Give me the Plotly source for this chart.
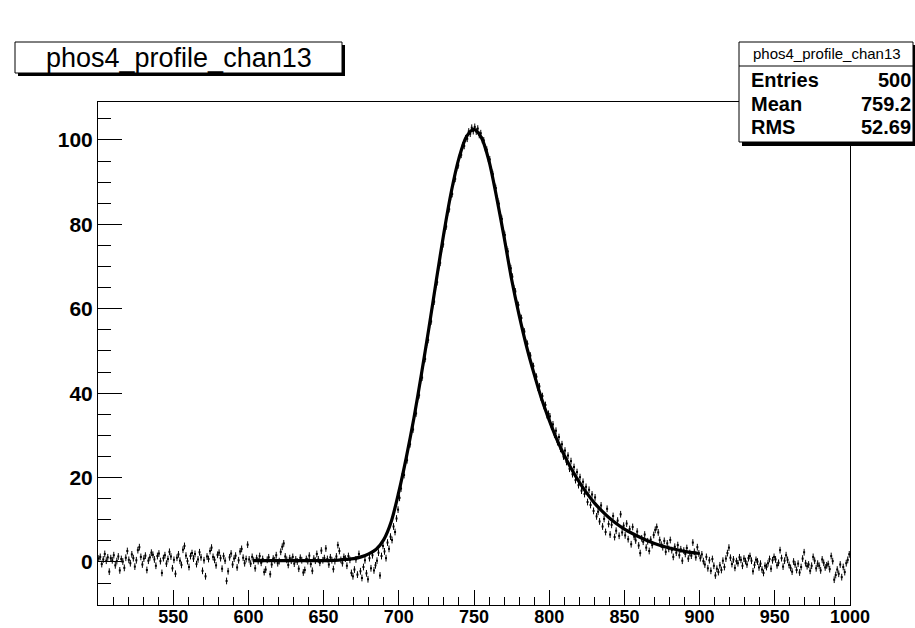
import plotly.graph_objects as go

# ---------------- data ----------------
hist_name = "phos4_profile_chan13"
x_low, x_high = 500, 1000
y_low, y_high = -10.2, 109.0

stat_labels = ["Entries", "Mean", "RMS"]
stat_values = ["500", "759.2", "52.69"]

x_tick_vals = [550, 600, 650, 700, 750, 800, 850, 900, 950, 1000]
y_tick_vals = [0, 20, 40, 60, 80, 100]

# profile contents, one per bin (bin width 1, bins 500..1000)
row00 = [0.8, 1.2, -0.5, 0.6, 1.9, 0.3, 1.1, -2.3, 0.9, 0.4, 1.6, -0.8, 0.2, 1.3, -2.0, 0.7, 0.1, -1.4, 1.0, 2.6, 0.5, -0.3, 1.8, 0.9, -1.1]
row01 = [0.4, 2.8, 3.5, 1.2, -0.6, 0.8, 1.5, -1.9, 0.3, 1.1, 2.2, 1.7, 0.6, -0.9, 1.4, 2.0, 0.2, -2.6, 0.9, 1.6, -0.4, 0.7, 2.4, 1.3, -1.5]
row02 = [0.5, -2.8, 1.0, 1.8, 0.3, -0.7, 2.9, 3.8, 1.5, 0.2, -1.2, 1.4, 2.1, 0.8, 1.9, -0.5, 0.6, 2.3, 1.1, -2.1, 0.4, -3.4, 1.3, 0.7, 2.6]
row03 = [3.4, 1.2, 0.5, -0.8, 1.7, 2.2, 0.9, -1.6, 1.4, 0.3, -4.5, -2.2, 1.1, 2.0, -0.6, 0.8, 1.5, -1.3, 0.4, 2.5, 3.1, 1.0, -0.3, 0.7, 4.1]
row04 = [0.6, -0.4, 1.2, 0.3, -1.5, 0.9, 0.2, 1.4, -0.2, 0.7, -2.4, -1.8, 0.5, 1.1, -2.9, -0.6, 0.8, 0.4, 1.6, -0.3, 0.2, 2.4, 3.6, 4.4, 1.3]
row05 = [0.5, -0.7, 0.9, 0.3, 1.2, -0.4, 0.6, 0.1, -1.6, 1.0, 0.4, -2.5, -1.9, 0.7, 0.2, 1.5, -0.5, -2.1, 0.8, 0.3, 1.9, 0.6, -0.2, 2.7, 0.4]
row06 = [0.9, 3.2, 0.7, -0.6, 1.1, 0.4, -1.7, 0.2, 1.3, 4.0, 2.6, 0.5, -0.3, 1.2, 0.8, -0.9, 1.4, 0.5, -2.6, -3.4, -1.8, 0.6, -3.0, 1.9, -2.2]
row07 = [-3.8, -1.2, 0.4, -2.7, -4.1, 0.9, -1.5, 1.6, -2.0, -0.8, 0.3, 2.2, -3.2, 1.4, 3.8, 2.5, 0.9, 4.6, 3.1, 6.0, 5.2, 8.4, 7.1, 10.3, 12.4]
row08 = [15.2, 17.4, 20.8, 20.6, 23.9, 24.1, 27.5, 27.9, 31.0, 31.4, 34.9, 35.2, 38.6, 39.5, 43.0, 43.7, 47.3, 48.1, 51.5, 52.6, 56.2, 57.0, 60.8, 61.7, 65.2]
row09 = [66.3, 69.8, 70.9, 74.2, 75.3, 78.6, 79.5, 82.8, 83.6, 86.5, 87.2, 90.1, 90.8, 93.4, 94.0, 96.3, 96.5, 98.7, 98.6, 100.4, 100.3, 102.0, 101.5, 102.9, 102.1]
row10 = [103.1, 102.0, 102.7, 101.2, 101.6, 100.0, 99.9, 98.1, 97.7, 95.6, 95.4, 92.9, 91.9, 89.5, 88.6, 86.0, 84.9, 82.2, 81.3, 78.4, 77.5, 74.6, 73.6, 70.5, 69.6]
row11 = [67.6, 64.8, 64.1, 61.2, 60.9, 58.0, 57.8, 54.9, 54.6, 52.0, 51.7, 49.0, 48.9, 46.5, 46.4, 44.0, 43.9, 41.3, 41.6, 39.0, 39.3, 37.0, 37.2, 34.8, 35.1]
row12 = [34.5, 32.1, 32.6, 30.2, 31.1, 28.4, 29.6, 26.8, 27.9, 25.0, 26.4, 23.7, 25.2, 22.1, 23.9, 20.8, 22.5, 19.4, 21.3, 18.2, 20.1, 16.9, 19.0, 16.1, 17.8]
row13 = [14.2, 17.1, 13.5, 16.0, 12.1, 15.3, 10.8, 11.9, 9.6, 13.4, 8.4, 10.2, 7.1, 12.6, 9.0, 6.5, 8.8, 10.9, 5.9, 7.4, 9.8, 6.2, 11.3, 7.0, 8.6]
row14 = [6.3, 9.1, 5.4, 7.8, 4.2, 8.3, 6.0, 5.1, 7.2, 3.9, 2.1, 5.6, 4.8, 6.5, 3.4, 4.9, 2.6, 5.3, 4.0, 6.4, 7.6, 8.3, 7.0, 5.2, 4.1]
row15 = [3.5, 5.0, 2.4, 4.4, 3.1, 5.2, 2.8, 1.2, 3.6, 2.2, 4.0, 1.6, 3.0, 0.3, 2.7, 1.9, 3.3, 0.8, 2.1, 1.5, 4.6, 2.4, 1.1, 3.5, 2.0]
row16 = [0.9, 1.8, 0.2, -0.6, 1.2, -1.5, 0.4, -2.1, 0.7, -0.9, -3.2, -1.6, -2.4, -0.8, -1.9, 0.3, -1.2, 0.8, 2.1, 3.4, 1.0, -0.5, 0.6, -1.4, 0.2]
row17 = [-0.3, 1.1, 0.5, -0.9, 0.8, 0.2, -0.6, 0.9, 1.4, 0.3, -2.2, -0.7, 0.5, 0.1, -1.3, -0.4, -1.8, -2.6, -0.9, -1.2, -0.3, 0.7, -1.6, 0.4, 1.2]
row18 = [0.6, -0.8, -0.2, 2.8, 0.9, -1.1, 0.3, 1.6, 0.5, -0.7, -1.4, -2.3, 0.1, -0.6, -1.9, -0.4, -2.5, -1.2, 0.8, 2.3, -0.3, -1.0, -0.6, -2.1, -0.9]
row19 = [1.2, 0.3, -1.5, -0.4, -0.9, -2.0, 0.6, -0.2, -1.3, -0.8, -0.5, -1.7, 1.4, 0.2, -4.2, -3.1, -1.8, -2.8, -0.6, -3.6, -1.2, -2.4, -0.3, 0.5, 1.8]

profile_values = (row00 + row01 + row02 + row03 + row04 + row05 + row06 + row07 + row08 + row09
                  + row10 + row11 + row12 + row13 + row14 + row15 + row16 + row17 + row18 + row19)
bin_centers = [x_low + 0.5 + i for i in range(len(profile_values))]
point_error = 0.8

# fitted curve
fit_x = [603, 610, 620, 630, 640, 650, 655, 660, 665, 670, 675, 680, 685, 690, 695, 700, 705, 710, 715, 720,
         725, 730, 735, 740, 745, 750, 755, 760, 765, 770, 775, 780, 785, 790, 795, 800, 805, 810, 815, 820,
         825, 830, 835, 840, 845, 850, 855, 860, 865, 870, 875, 880, 885, 890, 895, 900]
fit_y = [0.3, 0.3, 0.3, 0.3, 0.3, 0.3, 0.35, 0.45, 0.6, 0.8, 1.2, 1.9, 3.0, 5.3, 9.6, 16.6, 24.8, 34.0, 44.4, 55.4,
         66.9, 78.0, 87.9, 95.7, 100.8, 102.5, 100.5, 95.0, 86.5, 77.0, 67.0, 58.5, 51.0, 44.5, 38.6, 33.6, 29.1, 25.3, 21.9, 18.9,
         16.3, 14.0, 12.1, 10.4, 9.0, 7.8, 6.8, 5.9, 5.1, 4.4, 3.8, 3.3, 2.9, 2.5, 2.2, 2.0]

# ---------------- figure ----------------
W, H = 915, 628
L, T = 98, 102
PW, PH = 752, 503
B = H - T - PH
R = W - L - PW

def px(xp):
    return (xp - L) / PW

def py(yp):
    return (T + PH - yp) / PH

FONT = "Liberation Sans, Arial, Helvetica, sans-serif"

fig = go.Figure()
fig.add_trace(go.Scatter(
    x=bin_centers, y=profile_values, mode="markers",
    marker=dict(symbol="square", size=2, color="black", line=dict(width=0)),
    error_y=dict(type="constant", value=point_error, color="black", thickness=1, width=0),
    showlegend=False, hoverinfo="x+y",
))
fig.add_trace(go.Scatter(
    x=fit_x, y=fit_y, mode="lines",
    line=dict(color="black", width=3.2, shape="spline", smoothing=0.8),
    showlegend=False,
))

fig.update_layout(
    width=W, height=H,
    margin=dict(l=L, r=R, t=T, b=B, pad=0),
    paper_bgcolor="white", plot_bgcolor="white",
    font=dict(family=FONT, color="black"),
)
fig.update_xaxes(
    range=[x_low, x_high], automargin=False,
    showgrid=False, zeroline=False,
    showline=True, linecolor="black", linewidth=1, mirror=True,
    tickmode="array", tickvals=x_tick_vals, ticktext=[str(v) for v in x_tick_vals],
    ticks="inside", ticklen=15, tickwidth=1, tickcolor="black",
    minor=dict(ticks="inside", ticklen=8, tickwidth=1, tickcolor="black", dtick=10, tick0=500, showgrid=False),
    tickfont=dict(family=FONT, size=18, color="black", weight="bold"),
    ticklabelstandoff=-5,
)
fig.update_yaxes(
    range=[y_low, y_high], automargin=False,
    showgrid=False, zeroline=False,
    showline=True, linecolor="black", linewidth=1, mirror=True,
    tickmode="array", tickvals=y_tick_vals, ticktext=[str(v) for v in y_tick_vals],
    ticks="inside", ticklen=24, tickwidth=1, tickcolor="black",
    minor=dict(ticks="inside", ticklen=13, tickwidth=1, tickcolor="black", dtick=5, tick0=0, showgrid=False),
    tickfont=dict(family=FONT, size=21, color="black", weight="bold"),
)

shapes = []
# title box with shadow
shapes.append(dict(type="rect", xref="paper", yref="paper", layer="above",
                   x0=px(18), x1=px(345), y0=py(76), y1=py(45),
                   fillcolor="black", line=dict(width=0)))
shapes.append(dict(type="rect", xref="paper", yref="paper", layer="above",
                   x0=px(15), x1=px(342), y0=py(73), y1=py(42),
                   fillcolor="white", line=dict(color="black", width=1)))
# stats box with shadow
shapes.append(dict(type="rect", xref="paper", yref="paper", layer="above",
                   x0=px(742), x1=px(918), y0=py(146), y1=py(45),
                   fillcolor="black", line=dict(width=0)))
shapes.append(dict(type="rect", xref="paper", yref="paper", layer="above",
                   x0=px(739), x1=px(913), y0=py(142), y1=py(42),
                   fillcolor="white", line=dict(color="black", width=1)))
shapes.append(dict(type="line", xref="paper", yref="paper", layer="above",
                   x0=px(739), x1=px(913), y0=py(66), y1=py(66),
                   line=dict(color="black", width=1)))
fig.update_layout(shapes=shapes)

ann = []
ann.append(dict(text=hist_name, xref="paper", yref="paper", x=px(178.5), y=py(57.5),
                xanchor="center", yanchor="middle", showarrow=False,
                font=dict(family=FONT, size=27, color="black")))
ann.append(dict(text=hist_name, xref="paper", yref="paper", x=px(827), y=py(54),
                xanchor="center", yanchor="middle", showarrow=False,
                font=dict(family=FONT, size=15, color="black")))
row_y = [80, 104, 127]
for lab, val, yy in zip(stat_labels, stat_values, row_y):
    ann.append(dict(text=lab, xref="paper", yref="paper", x=px(749), y=py(yy),
                    xanchor="left", yanchor="middle", showarrow=False,
                    font=dict(family=FONT, size=20, color="black", weight="bold")))
    ann.append(dict(text=val, xref="paper", yref="paper", x=px(913), y=py(yy),
                    xanchor="right", yanchor="middle", showarrow=False,
                    font=dict(family=FONT, size=20, color="black", weight="bold")))
fig.update_layout(annotations=ann)

fig.write_html(
    "out.html",
    config={"displayModeBar": False},
    post_script="document.body.style.margin='0px';document.body.style.overflow='hidden';",
)
